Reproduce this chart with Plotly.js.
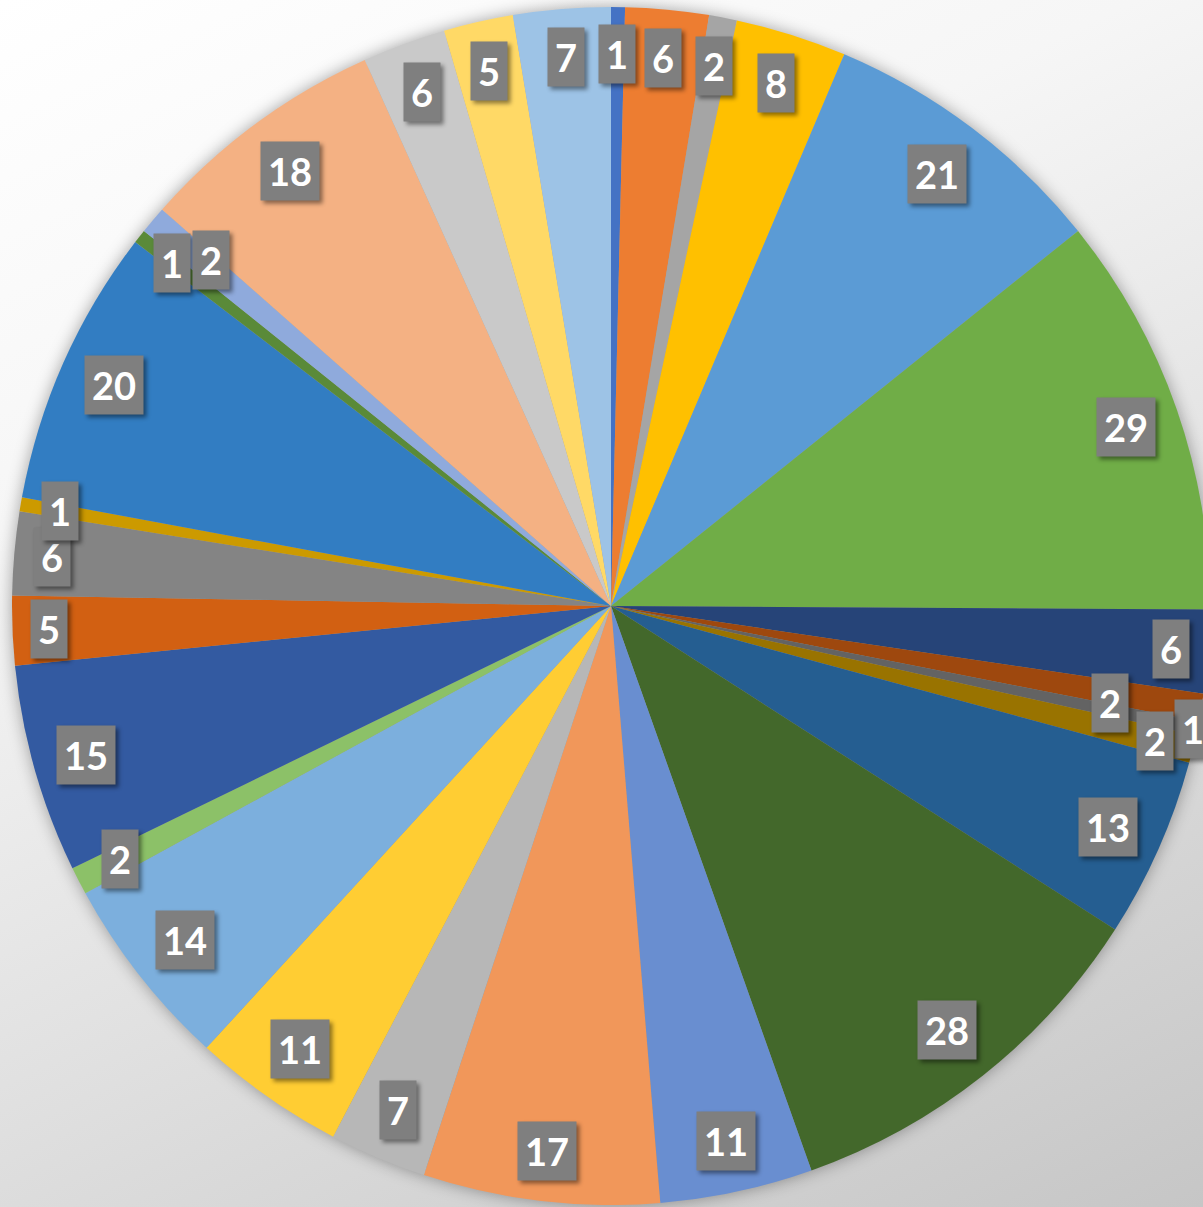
<!DOCTYPE html>
<html>
<head>
<meta charset="utf-8">
<script src="https://cdn.plot.ly/plotly-3.0.1.min.js"></script>
<style>
  html, body { margin: 0; padding: 0; overflow: hidden; width: 1203px; height: 1207px; }
  body { background: linear-gradient(155deg, #ffffff 0%, #f6f6f6 30%, #e2e2e2 60%, #c6c6c6 100%); }
  #chart { width: 1222px; height: 1207px; }
  .pielayer { filter: drop-shadow(0px 0px 8px rgba(0,0,0,0.35)); }
  .annotation-text-g rect.bg { filter: drop-shadow(3px 3px 2px rgba(0,0,0,0.45)); }
</style>
</head>
<body>
<div id="chart"></div>
<script>
// ---- data (clockwise from 12 o'clock) ----
const categories = [
  "P1","P2","P3","P4","P5","P6","P7","P8","P9","P10",
  "P11","P12","P13","P14","P15","P16","P17","P18","P19","P20",
  "P21","P22","P23","P24","P25","P26","P27","P28","P29"
];
const values = [
  1, 6, 2, 8, 21, 29,
  6, 2, 1, 2, 13, 28,
  11, 17, 7, 11, 14, 2,
  15, 5, 6, 1, 20, 1,
  2, 18, 6, 5, 7
];
const sliceColors = [
  "#4472C4","#ED7D31","#A5A5A5","#FFC000","#5B9BD5","#70AD47",
  "#264478","#9E480E","#636363","#997300","#255E91","#43682B",
  "#698ED0","#F1975A","#B7B7B7","#FFCD33","#7CAFDD","#8CC168",
  "#335AA1","#D26012","#848484","#CC9A00","#327DC2","#5A8A39",
  "#8FAADC","#F4B183","#C9C9C9","#FFD966","#9DC3E6"
];

// ---- label layout (style only: nudges to avoid overlap, in px) ----
const labelNudge = { 7: [-52, 2], 8: [36, 9], 9: [3, 2], 23: [-7, -4], 24: [20, 8] };

const W = 1222, H = 1207;
const margin = { l: 12, r: 12, t: 7, b: 2 };
const R = Math.min(W - margin.l - margin.r, H - margin.t - margin.b) / 2;
const labelBase = R - 18;
const boxHalfH = 29;

const total = values.reduce((a, b) => a + b, 0);
let cum = 0;
const annotations = values.map((v, i) => {
  const mid = (cum + v / 2) / total * 2 * Math.PI; // clockwise from 12 o'clock
  cum += v;
  const s = Math.sin(mid), c = Math.cos(mid);
  const hw = String(v).length > 1 ? 28 : 17.5;
  const r = labelBase - (Math.abs(c) * boxHalfH + Math.abs(s) * hw);
  const n = labelNudge[i] || [0, 0];
  const dx = r * s + n[0];
  const dy = -r * c + n[1];
  return {
    xref: "paper", yref: "paper", x: 0.5, y: 0.5,
    xanchor: "center", yanchor: "middle",
    xshift: dx, yshift: -dy,
    text: "<b>" + v + "</b>",
    showarrow: false,
    font: { family: "Lato, 'Open Sans', sans-serif", size: 38, color: "#ffffff" },
    bgcolor: "#7F7F7F",
    borderpad: 7,
    height: 44
  };
});

const trace = {
  type: "pie",
  labels: categories,
  values: values,
  sort: false,
  direction: "clockwise",
  rotation: 0,
  textinfo: "none",
  hoverinfo: "none",
  marker: { colors: sliceColors, line: { width: 0 } },
  domain: { x: [0, 1], y: [0, 1] }
};

const layout = {
  width: W, height: H,
  margin: margin,
  showlegend: false,
  paper_bgcolor: "rgba(0,0,0,0)",
  plot_bgcolor: "rgba(0,0,0,0)",
  annotations: annotations
};

Plotly.newPlot("chart", [trace], layout, { staticPlot: true, displayModeBar: false });
</script>
</body>
</html>
